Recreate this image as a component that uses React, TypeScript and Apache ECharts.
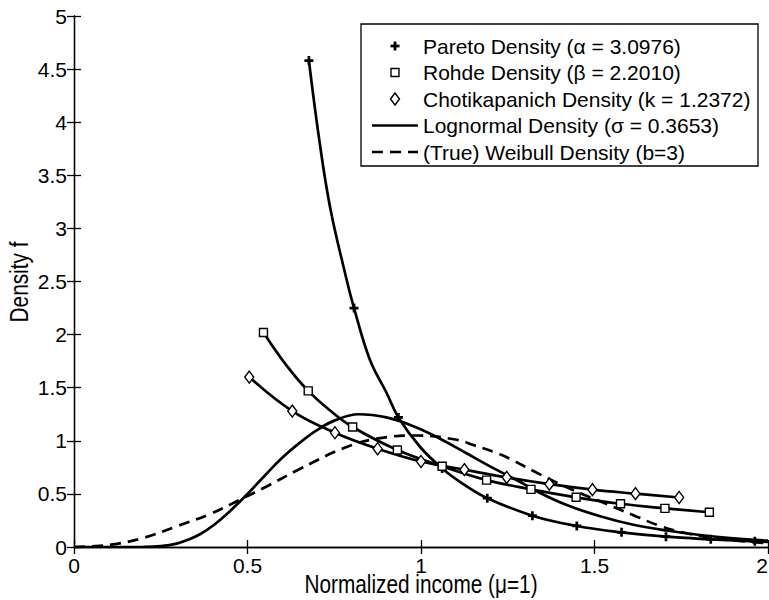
import React, { useEffect, useRef } from "react";
import * as echarts from "echarts";

// ---- data ----
const paretoCurve = [
  [0.677, 4.58], [0.707, 3.83], [0.738, 3.2], [0.781, 2.58], [0.807, 2.25],
  [0.853, 1.76], [0.901, 1.45], [0.935, 1.22], [0.997, 0.944], [1.061, 0.74],
  [1.132, 0.57], [1.191, 0.46], [1.321, 0.295], [1.449, 0.198], [1.578, 0.138],
  [1.706, 0.097], [1.835, 0.072], [1.962, 0.053], [2.0, 0.048],
];
const paretoMarkers = [
  [0.677, 4.58], [0.807, 2.25], [0.935, 1.22], [1.061, 0.74], [1.191, 0.46],
  [1.321, 0.295], [1.449, 0.198], [1.578, 0.138], [1.706, 0.097], [1.835, 0.072],
  [1.962, 0.053],
];
const rohdeCurve = [
  [0.546, 2.02], [0.61, 1.72], [0.675, 1.47], [0.74, 1.28], [0.803, 1.13],
  [0.932, 0.913], [1.061, 0.76], [1.189, 0.63], [1.317, 0.543], [1.447, 0.468],
  [1.575, 0.407], [1.703, 0.364], [1.831, 0.327],
];
const rohdeMarkers = [
  [0.546, 2.02], [0.675, 1.47], [0.803, 1.13], [0.932, 0.913], [1.061, 0.76],
  [1.189, 0.63], [1.317, 0.543], [1.447, 0.468], [1.575, 0.407], [1.703, 0.364],
  [1.831, 0.327],
];
const chotiCurve = [
  [0.505, 1.6], [0.629, 1.28], [0.752, 1.076], [0.875, 0.925], [1.0, 0.805],
  [1.125, 0.728], [1.247, 0.655], [1.37, 0.592], [1.494, 0.54], [1.618, 0.502],
  [1.744, 0.466],
];
const chotiMarkers = [
  [0.505, 1.6], [0.629, 1.28], [0.752, 1.076], [0.875, 0.925], [1.0, 0.805],
  [1.125, 0.728], [1.247, 0.655], [1.37, 0.592], [1.494, 0.54], [1.618, 0.502],
  [1.744, 0.466],
];
const lognormalCurve = [
  [0, 0], [0.1, 0], [0.2, 0.001], [0.25, 0.008], [0.296, 0.032], [0.33, 0.07],
  [0.363, 0.12], [0.4, 0.2], [0.45, 0.34], [0.5, 0.5], [0.555, 0.69], [0.6, 0.84],
  [0.65, 0.98], [0.7, 1.1], [0.75, 1.19], [0.82, 1.25], [0.9, 1.22], [0.98, 1.135],
  [1.055, 1.02], [1.13, 0.885], [1.21, 0.74], [1.29, 0.605], [1.324, 0.54],
  [1.42, 0.395], [1.516, 0.29], [1.612, 0.21], [1.708, 0.155], [1.804, 0.113],
  [1.9, 0.082], [2.0, 0.06],
];
const weibullCurve = [
  [0, 0], [0.05, 0.006], [0.123, 0.03], [0.2, 0.085], [0.296, 0.195], [0.392, 0.31],
  [0.478, 0.445], [0.555, 0.57], [0.642, 0.72], [0.776, 0.93], [0.872, 1.02],
  [0.988, 1.05], [1.103, 1.01], [1.151, 0.96], [1.218, 0.885], [1.266, 0.815],
  [1.324, 0.715], [1.42, 0.562], [1.516, 0.43], [1.612, 0.3], [1.689, 0.198],
  [1.766, 0.129], [1.852, 0.08], [1.948, 0.048], [2.0, 0.035],
];
const legendLabels = [
  "Pareto Density (α = 3.0976)",
  "Rohde Density (β = 2.2010)",
  "Chotikapanich Density (k = 1.2372)",
  "Lognormal Density (σ = 0.3653)",
  "(True) Weibull Density (b=3)",
];
const xTitle = "Normalized income (μ=1)";
const yTitle = "Density f";

const FONT = "'Liberation Sans', Arial, Helvetica, sans-serif";
const PLUS = "path://M3.5,0H6.5V3.5H10V6.5H6.5V10H3.5V6.5H0V3.5H3.5Z";

export default function App() {
  const ref = useRef<HTMLDivElement>(null);
  useEffect(() => {
    if (!ref.current) return;
    const chart = echarts.init(ref.current, null, { renderer: "svg" });
    const axisLine = { show: true, lineStyle: { color: "#000", width: 1.3 } };
    const tick = { show: true, inside: true, length: 7, lineStyle: { color: "#000", width: 1.3 } };
    const lineSeries = (data: number[][], dashed = false) => ({
      type: "line",
      data,
      xAxisIndex: 0,
      yAxisIndex: 0,
      smooth: 0.4,
      showSymbol: false,
      symbol: "none",
      lineStyle: { color: "#000", width: 2.7, type: dashed ? [11, 7] : "solid", cap: "butt" },
      z: 2,
      silent: true,
    });
    const markerSeries = (data: number[][], symbol: string, size: any, filled: boolean) => ({
      type: "scatter",
      data,
      xAxisIndex: 0,
      yAxisIndex: 0,
      symbol,
      symbolSize: size,
      itemStyle: filled
        ? { color: "#000", opacity: 1 }
        : { color: "#fff", borderColor: "#000", borderWidth: 1.4, opacity: 1 },
      z: 3,
      silent: true,
    });
    const rowY = [46, 72.5, 99, 125.5, 152];
    const legendChildren: any[] = [
      {
        type: "rect",
        shape: { x: 361, y: 24, width: 397, height: 142 },
        style: { fill: "#fff", stroke: "#000", lineWidth: 1.3 },
      },
      { type: "rect", shape: { x: 390.5, y: rowY[0] - 1.4, width: 9, height: 2.8 }, style: { fill: "#000" } },
      { type: "rect", shape: { x: 393.6, y: rowY[0] - 4.5, width: 2.8, height: 9 }, style: { fill: "#000" } },
      { type: "rect", shape: { x: 391, y: rowY[1] - 4, width: 8, height: 8 }, style: { fill: "#fff", stroke: "#000", lineWidth: 1.4 } },
      {
        type: "polygon",
        shape: { points: [[395, rowY[2] - 6], [399.5, rowY[2]], [395, rowY[2] + 6], [390.5, rowY[2]]] },
        style: { fill: "#fff", stroke: "#000", lineWidth: 1.4 },
      },
      { type: "line", shape: { x1: 372, y1: rowY[3], x2: 418, y2: rowY[3] }, style: { stroke: "#000", lineWidth: 2.7 } },
      { type: "line", shape: { x1: 372, y1: rowY[4], x2: 418, y2: rowY[4] }, style: { stroke: "#000", lineWidth: 2.7, lineDash: [11, 7] } },
    ];
    legendLabels.forEach((t, i) => {
      legendChildren.push({
        type: "text",
        x: 423,
        y: rowY[i],
        style: { text: t, fill: "#000", fontSize: 21, fontFamily: FONT, verticalAlign: "middle", align: "left" },
      });
    });
    const titles: any[] = [
      {
        type: "text",
        x: 421,
        y: 584,
        scaleX: 0.8,
        style: { text: xTitle, fill: "#000", fontSize: 26, fontFamily: FONT, align: "center", verticalAlign: "middle" },
      },
      {
        type: "text",
        x: 19,
        y: 282,
        rotation: Math.PI / 2,
        scaleX: 0.8,
        style: { text: yTitle, fill: "#000", fontSize: 26, fontFamily: FONT, align: "center", verticalAlign: "middle" },
      },
    ];

    chart.setOption({
      animation: false,
      backgroundColor: "#fff",
      grid: { left: 74, right: 1, top: 16, bottom: 53, containLabel: false, outerBoundsMode: "none" },
      xAxis: [
        {
          type: "value", min: 0, max: 2, interval: 0.5, position: "bottom",
          axisLine, axisTick: tick, splitLine: { show: false },
          axisLabel: { color: "#000", fontSize: 21, fontFamily: FONT, margin: 8, alignMaxLabel: "right" },
        },
        {
          type: "value", min: 0, max: 2, interval: 0.5, position: "top",
          axisLine, axisTick: tick, axisLabel: { show: false }, splitLine: { show: false },
        },
      ],
      yAxis: [
        {
          type: "value", min: 0, max: 5, interval: 0.5, position: "left",
          axisLine, axisTick: tick, splitLine: { show: false },
          axisLabel: { color: "#000", fontSize: 21, fontFamily: FONT, margin: 7 },
        },
        {
          type: "value", min: 0, max: 5, interval: 0.5, position: "right",
          axisLine, axisTick: tick, axisLabel: { show: false }, splitLine: { show: false },
        },
      ],
      series: [
        lineSeries(paretoCurve),
        lineSeries(rohdeCurve),
        lineSeries(chotiCurve),
        lineSeries(lognormalCurve),
        lineSeries(weibullCurve, true),
        markerSeries(paretoMarkers, PLUS, 9, true),
        markerSeries(rohdeMarkers, "rect", 8, false),
        markerSeries(chotiMarkers, "diamond", [9, 12], false),
      ],
      graphic: [
        { type: "group", z: 100, children: legendChildren },
        { type: "group", z: 100, children: titles },
      ],
    });
    return () => chart.dispose();
  }, []);
  return (
    <div
      ref={ref}
      style={{ position: "fixed", left: 0, top: 0, width: 769, height: 600, background: "#fff" }}
    />
  );
}
